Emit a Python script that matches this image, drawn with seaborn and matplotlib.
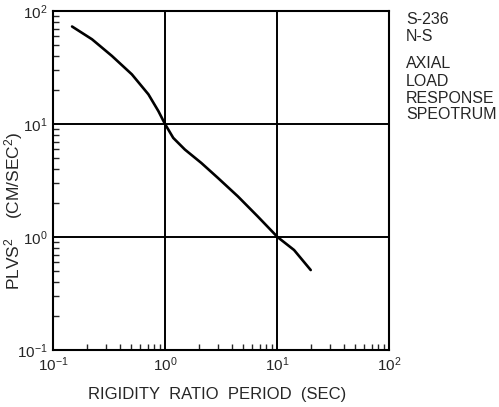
import matplotlib
matplotlib.use("Agg")
import matplotlib.pyplot as plt
import matplotlib.ticker as mticker
import seaborn as sns
import pandas as pd
import numpy as np

# Axial load response spectrum, station S-236, N-S component
period_sec = [0.148, 0.223, 0.336, 0.506, 0.711, 0.873, 1.0, 1.185, 1.505,
              2.11, 2.97, 4.47, 6.73, 10.1, 14.2, 20.0]
plvs2 = [72.9, 56.2, 40.0, 27.5, 18.3, 13.0, 10.0, 7.53, 5.94,
         4.52, 3.33, 2.29, 1.52, 1.0, 0.767, 0.51]

x_ticks = [0.1, 1, 10, 100]
y_ticks = [0.1, 1, 10, 100]
tick_labels = [r"$10^{-1}$", r"$10^{0}$", r"$10^{1}$", r"$10^{2}$"]
side_text = ["S-236", "N-S", "AXIAL", "LOAD", "RESPONSE", "SPEOTRUM"]
side_text_top_px = [13, 30, 57, 75, 92, 108]

sns.set_style("white")
plt.rcParams["font.family"] = ["Liberation Sans", "DejaVu Sans"]
plt.rcParams["mathtext.fontset"] = "custom"
plt.rcParams["mathtext.rm"] = "Liberation Sans"
plt.rcParams["mathtext.it"] = "Liberation Sans"

W, H = 499, 407
fig = plt.figure(figsize=(W / 100, H / 100), dpi=100)
ax = fig.add_axes([53 / W, 57 / H, 336 / W, 339 / H])

df = pd.DataFrame({"period": period_sec, "plvs2": plvs2})
sns.lineplot(data=df, x="period", y="plvs2", ax=ax, color="black", lw=1.9)

ax.set_xscale("log")
ax.set_yscale("log")
ax.set_xlim(0.1, 100)
ax.set_ylim(0.1, 100)

for v in x_ticks[1:-1]:
    ax.axvline(v, color="black", lw=1.4, zorder=1)
for v in y_ticks[1:-1]:
    ax.axhline(v, color="black", lw=1.4, zorder=1)

ax.set_xticks(x_ticks)
ax.set_xticklabels(tick_labels)
ax.set_yticks(y_ticks)
ax.set_yticklabels(tick_labels)
ax.xaxis.set_minor_locator(mticker.LogLocator(base=10, subs=np.arange(2, 10)))
ax.yaxis.set_minor_locator(mticker.LogLocator(base=10, subs=np.arange(2, 10)))
ax.xaxis.set_minor_formatter(mticker.NullFormatter())
ax.yaxis.set_minor_formatter(mticker.NullFormatter())
ax.tick_params(which="major", length=0, labelsize=11, pad=4)
ax.tick_params(which="minor", direction="in", length=4, width=1.0,
               bottom=True, left=True, top=False, right=False)

for s in ax.spines.values():
    s.set_color("black")
    s.set_linewidth(1.5)

ax.set_xlabel("RIGIDITY  RATIO  PERIOD  (SEC)", fontsize=12)
ax.xaxis.set_label_coords(0.488, -0.109)
ax.set_ylabel(r"PLVS$^{2}$    (CM/SEC$^{2}$)", fontsize=12.5)
ax.yaxis.set_label_coords(-0.083, 0.41)

for txt, top in zip(side_text, side_text_top_px):
    fig.text(406 / W, 1 - (top - 1) / H, txt, fontsize=11.5, va="top", ha="left")

fig.savefig("out.png", dpi=100)
